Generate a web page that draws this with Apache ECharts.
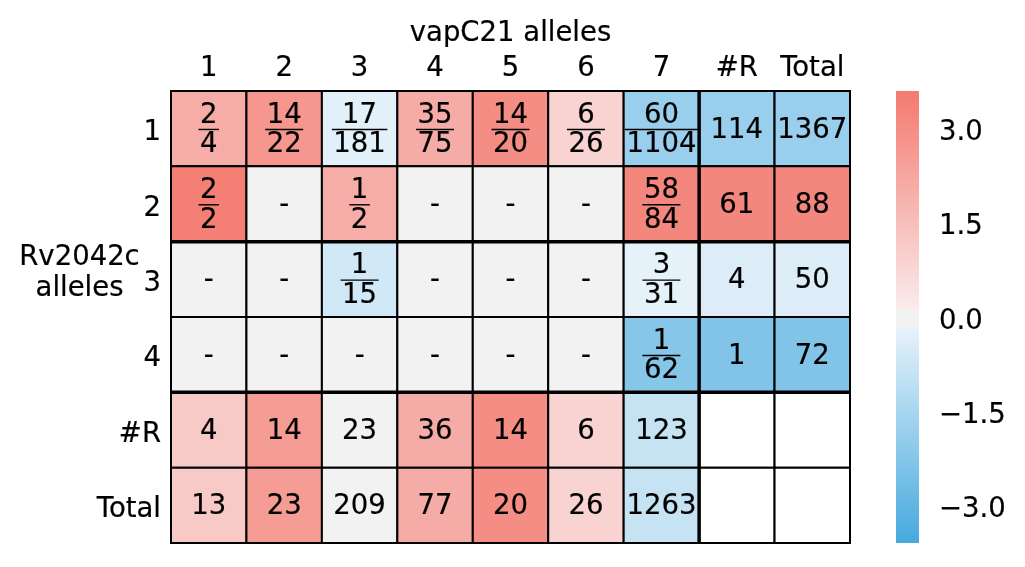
<!DOCTYPE html>
<html>
<head>
<meta charset="utf-8">
<script src="https://cdn.jsdelivr.net/npm/echarts@6/dist/echarts.min.js"></script>
<style>
html,body{margin:0;padding:0;background:#fff;}
#chart{width:1025px;height:567px;}
</style>
</head>
<body>
<div id="chart"></div>
<script>
// ---------- data ----------
const colLabels = ['1', '2', '3', '4', '5', '6', '7', '#R', 'Total'];
const rowLabels = ['1', '2', '3', '4', '#R', 'Total'];
const xTitle = 'vapC21 alleles';
const yTitle = 'Rv2042c\nalleles';

// cell texts ("a/b" = fraction, "-" = none, "" = empty)
const row1Text = ['2/4', '14/22', '17/181', '35/75', '14/20', '6/26', '60/1104', '114', '1367'];
const row2Text = ['2/2', '-', '1/2', '-', '-', '-', '58/84', '61', '88'];
const row3Text = ['-', '-', '1/15', '-', '-', '-', '3/31', '4', '50'];
const row4Text = ['-', '-', '-', '-', '-', '-', '1/62', '1', '72'];
const rowRText = ['4', '14', '23', '36', '14', '6', '123', '', ''];
const rowTotalText = ['13', '23', '209', '77', '20', '26', '1263', '', ''];

// colour values
const row1Values = [2.04, 2.72, -0.30, 2.07, 3.00, 0.87, -1.85, -1.85, -1.85];
const row2Values = [3.45, 0, 2.04, 0, 0, 0, 3.20, 3.20, 3.20];
const row3Values = [0, 0, -0.66, 0, 0, 0, -0.20, -0.40, -0.40];
const row4Values = [0, 0, 0, 0, 0, 0, -2.25, -2.35, -2.35];
const rowRValues = [1.15, 2.55, 0.03, 2.07, 3.00, 0.87, -0.89, null, null];
const rowTotalValues = [1.15, 2.55, 0.03, 2.07, 3.00, 0.87, -0.89, null, null];

const colorbarTicks = [-3, -1.5, 0, 1.5, 3];
const colorMin = -3.6, colorMax = 3.6;

// ---------- assemble ----------
const allText = [row1Text, row2Text, row3Text, row4Text, rowRText, rowTotalText];
const allValues = [row1Values, row2Values, row3Values, row4Values, rowRValues, rowTotalValues];
const cellData = [];
const cellText = [];
allValues.forEach((row, ri) => {
  row.forEach((v, ci) => {
    cellData.push([ci, ri, v === null ? '-' : v]);
    cellText.push(allText[ri][ci]);
  });
});

// diverging colour map (style)
function cmap(v) {
  const band = 0.14;
  const pos0 = [250, 235, 235], pos1 = [243, 122, 111];
  const neg0 = [233, 243, 250], neg1 = [70, 169, 222];
  let c;
  if (Math.abs(v) <= band) c = [242, 242, 242];
  else if (v > 0) {
    const f = (v - band) / (colorMax - band);
    c = pos0.map((a, i) => a + (pos1[i] - a) * f);
  } else {
    const f = (-v - band) / (-colorMin - band);
    c = neg0.map((a, i) => a + (neg1[i] - a) * f);
  }
  return 'rgb(' + c.map(Math.round).join(',') + ')';
}
const NSTOP = 360;
const stops = [];
for (let i = 0; i <= NSTOP; i++) stops.push(cmap(colorMin + (colorMax - colorMin) * i / NSTOP));
// gradient for the colour bar (top = max)
const barStops = stops.map((c, i) => ({offset: 1 - i / NSTOP, color: c})).reverse();

const FONT = 'DejaVu Sans';
const FS = 27.5;
const TB = 0.2; // slight text weight
const thickAfterRow = [1, 3];
const thickAfterCol = [6];

const GRID = {left: 171, top: 91, width: 679, height: 452};
const BAR = {left: 896, top: 91, width: 23, height: 452};

const labelBase = {color: '#000', fontSize: FS, fontFamily: FONT, textBorderColor: '#000', textBorderWidth: TB};

const chart = echarts.init(document.getElementById('chart'), null, {renderer: 'canvas'});
chart.setOption({
  animation: false,
  backgroundColor: '#fff',
  textStyle: {fontFamily: FONT},
  grid: [
    {left: GRID.left, top: GRID.top, width: GRID.width, height: GRID.height},
    {left: BAR.left, top: BAR.top, width: BAR.width, height: BAR.height}
  ],
  xAxis: [
    {
      type: 'category', gridIndex: 0, data: colLabels, position: 'top',
      axisLine: {show: false}, axisTick: {show: false}, splitLine: {show: false},
      axisLabel: Object.assign({margin: 8, interval: 0}, labelBase)
    },
    {type: 'value', gridIndex: 1, show: false, min: 0, max: 1}
  ],
  yAxis: [
    {
      type: 'category', gridIndex: 0, data: rowLabels, inverse: true,
      axisLine: {show: false}, axisTick: {show: false}, splitLine: {show: false},
      axisLabel: Object.assign({margin: 10, interval: 0, verticalAlign: 'top', lineHeight: 9}, labelBase)
    },
    {
      type: 'value', gridIndex: 1, position: 'right', min: colorMin, max: colorMax,
      axisLine: {show: false}, splitLine: {show: false},
      axisTick: {show: true, inside: false, length: 8, lineStyle: {color: '#000', width: 1.8}, customValues: colorbarTicks},
      axisLabel: Object.assign({
        margin: 20, customValues: colorbarTicks, verticalAlign: 'top', lineHeight: 9,
        formatter: v => (v < 0 ? '\u2212' : '') + Math.abs(v).toFixed(1)
      }, labelBase)
    }
  ],
  visualMap: {
    type: 'continuous', min: colorMin, max: colorMax, dimension: 2, seriesIndex: 0,
    calculable: false, show: false,
    inRange: {color: stops}
  },
  graphic: [
    {type: 'text', x: GRID.left + GRID.width / 2, y: 34,
     style: {text: xTitle, font: FS + 'px "' + FONT + '"', fill: '#000', stroke: '#000', lineWidth: TB, align: 'center', verticalAlign: 'middle'}, z: 10},
    {type: 'text', x: 79.5, y: 273,
     style: {text: yTitle, font: FS + 'px "' + FONT + '"', fill: '#000', stroke: '#000', lineWidth: TB, align: 'center', verticalAlign: 'middle', lineHeight: 31}, z: 10},
    {type: 'rect', shape: {x: BAR.left, y: BAR.top, width: BAR.width, height: BAR.height},
     style: {fill: new echarts.graphic.LinearGradient(0, 0, 0, 1, barStops)}, z: 1}
  ],
  series: [{
    type: 'custom',
    coordinateSystem: 'cartesian2d',
    xAxisIndex: 0, yAxisIndex: 0,
    data: cellData,
    renderItem: function (params, api) {
      const ci = api.value(0), ri = api.value(1), v = api.value(2);
      const c = api.coord([ci, ri]);
      const s = api.size([1, 1]);
      const x = c[0] - s[0] / 2, y = c[1] - s[1] / 2, w = s[0], h = s[1];
      const fill = (v === null || isNaN(v)) ? '#ffffff' : api.visual('color');
      const children = [{
        type: 'rect', shape: {x: x, y: y, width: w, height: h},
        style: {fill: fill, stroke: '#000', lineWidth: 2}, z2: 1
      }];
      const t = cellText[params.dataIndex];
      const font = FS + 'px "' + FONT + '"';
      const ts = {font: font, fill: '#000', stroke: '#000', lineWidth: TB, align: 'center', verticalAlign: 'middle'};
      const cy = c[1] + 2;
      if (t.indexOf('/') >= 0) {
        const parts = t.split('/');
        const n = Math.max(parts[0].length, parts[1].length);
        const lw = n * 0.636 * FS + 3;
        children.push({type: 'text', x: c[0], y: cy - 15, style: Object.assign({text: parts[0]}, ts), z2: 5});
        children.push({type: 'text', x: c[0], y: cy + 14.5, style: Object.assign({text: parts[1]}, ts), z2: 5});
        children.push({type: 'line', shape: {x1: c[0] - lw / 2, y1: c[1] + 0.8, x2: c[0] + lw / 2, y2: c[1] + 0.8}, style: {stroke: '#000', lineWidth: 1.4}, z2: 5});
      } else if (t) {
        children.push({type: 'text', x: c[0], y: cy, style: Object.assign({text: t}, ts), z2: 5});
      }
      if (thickAfterRow.indexOf(ri) >= 0) {
        children.push({type: 'line', shape: {x1: x, y1: y + h, x2: x + w, y2: y + h}, style: {stroke: '#000', lineWidth: 3.5}, z2: 20});
      }
      if (thickAfterCol.indexOf(ci) >= 0) {
        children.push({type: 'line', shape: {x1: x + w, y1: y, x2: x + w, y2: y + h}, style: {stroke: '#000', lineWidth: 3.5}, z2: 20});
      }
      return {type: 'group', children: children};
    }
  }]
});
</script>
</body>
</html>
